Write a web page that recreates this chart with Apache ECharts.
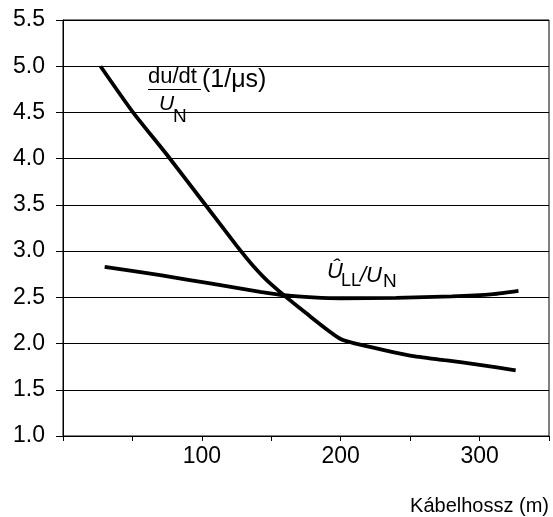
<!DOCTYPE html>
<html>
<head>
    <meta charset="utf-8">
    <title>Kábelhossz</title>
    <script src="https://cdn.jsdelivr.net/npm/echarts@6/dist/echarts.min.js"></script>
    <style>
        body { margin: 0; background: #fff; }
    </style>
</head>
<body>
    <div id="main" style="width: 553px;height:517px;"></div>
    <script type="text/javascript">
        // values
        var lenDudt = [27, 50, 75, 100, 125, 137, 150, 175, 200, 225, 250, 275, 300, 326];
        var dudt = [5.0, 4.51, 4.04, 3.55, 3.06, 2.84, 2.64, 2.33, 2.05, 1.95, 1.87, 1.82, 1.77, 1.71];

        var lenUll = [30, 70, 106, 142, 161, 180, 200, 240, 280, 310, 328];
        var ull = [2.83, 2.74, 2.65, 2.56, 2.52, 2.50, 2.49, 2.495, 2.51, 2.535, 2.57];

        var xLabels = [100, 200, 300];
        var xName = 'Kábelhossz (m)';

        var FONT = '"Liberation Sans", Arial, sans-serif';

        function zip(xs, ys) {
            var out = [];
            for (var i = 0; i < xs.length; i++) out.push([xs[i], ys[i]]);
            return out;
        }

        var myChart = echarts.init(document.getElementById('main'));

        var option = {
            animation: false,
            backgroundColor: '#fff',
            grid: {
                left: 63,
                right: 4,
                top: 20,
                bottom: 81,
                show: true,
                borderColor: '#000',
                borderWidth: 1,
                containLabel: false,
                outerBoundsMode: 'none'
            },
            xAxis: {
                type: 'value',
                min: 0,
                max: 350,
                interval: 50,
                axisLine: { lineStyle: { color: '#000', width: 1 } },
                axisTick: { show: true, length: 5, lineStyle: { color: '#000' } },
                splitLine: { show: false },
                axisLabel: {
                    margin: 9,
                    color: '#000',
                    fontSize: 23,
                    fontFamily: FONT,
                    formatter: function (v) {
                        return xLabels.indexOf(v) >= 0 ? String(v) : '';
                    }
                }
            },
            yAxis: {
                type: 'value',
                min: 1,
                max: 5.5,
                interval: 0.5,
                axisLine: { show: true, lineStyle: { color: '#000', width: 1 } },
                axisTick: { show: true, length: 7, lineStyle: { color: '#000' } },
                splitLine: { show: true, lineStyle: { color: '#000', width: 1 } },
                axisLabel: {
                    margin: 18,
                    color: '#000',
                    fontSize: 23,
                    fontFamily: FONT,
                    formatter: function (v) { return v.toFixed(1); }
                }
            },
            series: [
                {
                    name: 'du/dt',
                    type: 'line',
                    data: zip(lenDudt, dudt),
                    showSymbol: false,
                    smooth: 0.2,
                    lineStyle: { color: '#000', width: 3.8 }
                },
                {
                    name: 'ULL',
                    type: 'line',
                    data: zip(lenUll, ull),
                    showSymbol: false,
                    smooth: 0.2,
                    lineStyle: { color: '#000', width: 3.8 }
                }
            ],
            graphic: [
                // du/dt over U_N (1/us)
                { type: 'text', left: 148, top: 66, style: { text: 'du/dt', font: '22px ' + FONT, fill: '#000' } },
                { type: 'line', shape: { x1: 148, y1: 89.5, x2: 201, y2: 89.5 }, style: { stroke: '#000', lineWidth: 1 } },
                { type: 'text', left: 159, top: 94, style: { text: 'U', font: 'italic 21px ' + FONT, fill: '#000' } },
                { type: 'text', left: 173, top: 107, style: { text: 'N', font: '19px ' + FONT, fill: '#000' } },
                { type: 'text', left: 202, top: 68, style: { text: '(1/\u03bcs)', font: '25px ' + FONT, fill: '#000' } },
                // U_LL / U_N
                { type: 'text', left: 327, top: 261, style: { text: '\u00db', font: 'italic 22px ' + FONT, fill: '#000' } },
                { type: 'text', left: 341, top: 272, style: { text: 'LL', font: '18px ' + FONT, fill: '#000' } },
                { type: 'text', left: 360, top: 265, style: { text: '/', font: 'italic 22px ' + FONT, fill: '#000' } },
                { type: 'text', left: 366, top: 265, style: { text: 'U', font: 'italic 22px ' + FONT, fill: '#000' } },
                { type: 'text', left: 383, top: 272, style: { text: 'N', font: '19px ' + FONT, fill: '#000' } },
                // axis name
                { type: 'text', right: 4, top: 496, style: { text: xName, font: '20px ' + FONT, fill: '#000' } }
            ]
        };

        myChart.setOption(option);
    </script>
</body>
</html>
